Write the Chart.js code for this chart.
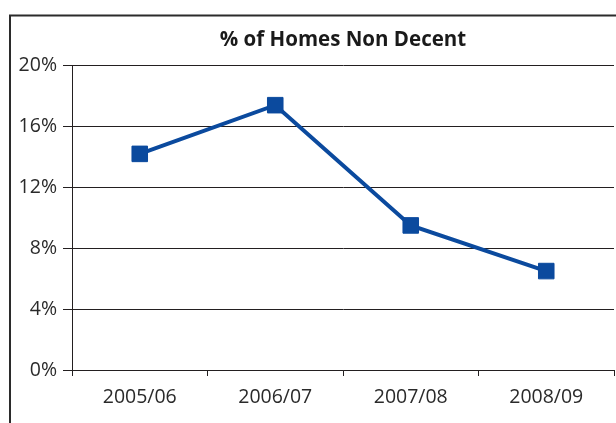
<!DOCTYPE html>
<html>
<head>
<meta charset="utf-8">
<script src="https://cdn.jsdelivr.net/npm/chart.js@4"></script>
<style>
  html, body { margin: 0; padding: 0; background: #fff; overflow: hidden; }
  #wrap { width: 616px; height: 423px; }
</style>
</head>
<body>
<div id="wrap"><canvas id="chart" width="616" height="423"></canvas></div>
<script>
const labels = ['2005/06', '2006/07', '2007/08', '2008/09'];
const values = [14.2, 17.4, 9.5, 6.5];
const yTicks = [0, 4, 8, 12, 16, 20];

const lineColor = '#0b4a9e';
const inkColor = '#231f20';

// outer frame, only the left and top edges show in the window
const framePlugin = {
  id: 'frame',
  beforeDraw(chart) {
    const { ctx, width, height } = chart;
    ctx.save();
    ctx.strokeStyle = '#2b2b2b';
    ctx.lineWidth = 2;
    ctx.beginPath();
    ctx.moveTo(10, height);
    ctx.lineTo(10, 15.5);
    ctx.lineTo(width, 15.5);
    ctx.stroke();
    ctx.restore();
  }
};

const ctx = document.getElementById('chart').getContext('2d');
new Chart(ctx, {
  type: 'line',
  data: {
    labels: labels,
    datasets: [{
      label: '% of Homes Non Decent',
      data: values,
      borderColor: lineColor,
      backgroundColor: lineColor,
      borderWidth: 4,
      tension: 0,
      pointStyle: 'rect',
      pointRadius: 11,
      pointBorderWidth: 1,
      pointBackgroundColor: lineColor,
      pointBorderColor: lineColor
    }]
  },
  options: {
    responsive: false,
    animation: false,
    layout: { autoPadding: false, padding: { left: 0, right: 2, top: 0, bottom: 0 } },
    plugins: {
      legend: { display: false },
      tooltip: { enabled: false },
      title: {
        display: true,
        text: '% of Homes Non Decent',
        fullSize: false,
        color: '#1a1a1a',
        font: { family: '"Open Sans", sans-serif', size: 20.5, weight: 'bold' },
        padding: { top: 28, bottom: 13 }
      }
    },
    scales: {
      x: {
        offset: true,
        afterFit(scale) {
          scale.height = 53;
          scale.paddingLeft = 0;
          scale.paddingRight = 0;
        },
        grid: {
          offset: true,
          drawOnChartArea: false,
          drawTicks: true,
          tickLength: 6,
          color: inkColor
        },
        border: { display: true, color: inkColor, width: 1 },
        ticks: {
          color: '#2a2a2a',
          padding: 10,
          font: { family: '"Open Sans", sans-serif', size: 19.5 }
        }
      },
      y: {
        min: 0,
        max: 20,
        afterFit(scale) { scale.width = 72; },
        afterBuildTicks(scale) {
          scale.ticks = yTicks.map(v => ({ value: v }));
        },
        grid: {
          color: inkColor,
          lineWidth: 1,
          drawTicks: true,
          tickLength: 9
        },
        border: { display: true, color: inkColor, width: 1 },
        ticks: {
          color: '#2a2a2a',
          padding: 6,
          font: { family: '"Open Sans", sans-serif', size: 19.5 },
          callback: v => v + '%'
        }
      }
    }
  },
  plugins: [framePlugin]
});
</script>
</body>
</html>
